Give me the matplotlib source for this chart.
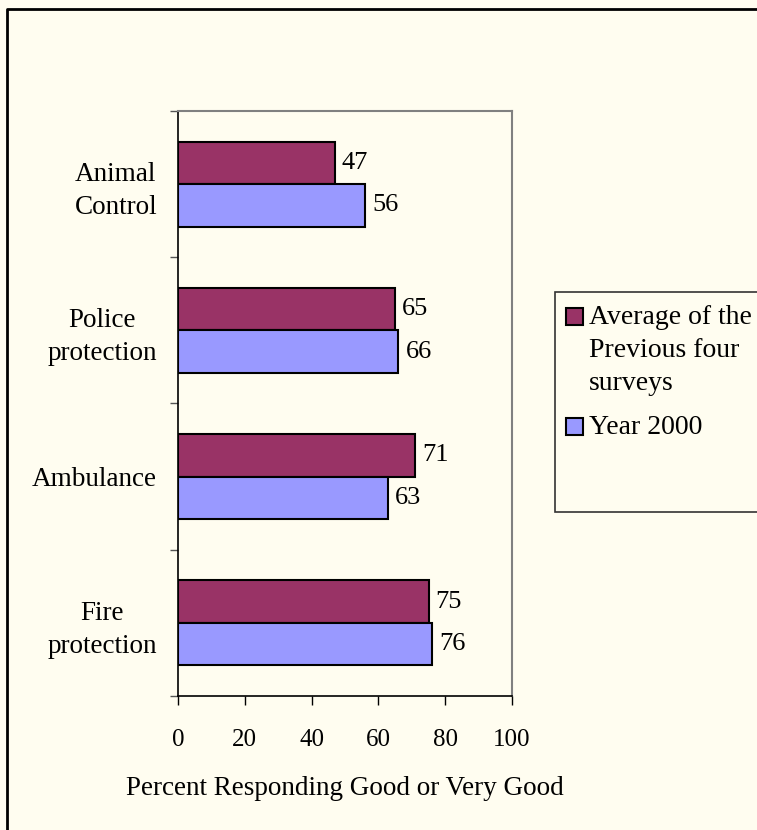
import matplotlib

matplotlib.use("Agg")
import matplotlib.pyplot as plt
import numpy as np
from matplotlib.lines import Line2D
from matplotlib.patches import Rectangle

categories = ["Animal\nControl", "Police\nprotection", "Ambulance", "Fire\nprotection"]
series_names = ["Average of the\nPrevious four\nsurveys", "Year 2000"]
previous_avg = [47, 65, 71, 75]
year_2000 = [56, 66, 63, 76]
x_ticks = [0, 20, 40, 60, 80, 100]
x_label = "Percent Responding Good or Very Good"

W, H = 757, 830
BG = "#FFFDF0"
COLORS = ["#993366", "#9999FF"]
FS_TICK = 18
FS_VALUE = 19
FS_TEXT = 19.5

plt.rcParams["font.family"] = ["Liberation Serif", "DejaVu Serif"]

fig = plt.figure(figsize=(W / 100, H / 100), dpi=100, facecolor=BG)
ax = fig.add_axes([178 / W, 1 - 696 / H, (512 - 178) / W, (696 - 111) / H])
ax.set_facecolor(BG)

y = np.arange(len(categories))
h = 0.29
bars_prev = ax.barh(y - h / 2, previous_avg, height=h, color=COLORS[0], edgecolor="black", linewidth=1.5)
bars_2000 = ax.barh(y + h / 2, year_2000, height=h, color=COLORS[1], edgecolor="black", linewidth=1.5)
ax.bar_label(bars_prev, padding=5, fontsize=FS_VALUE)
ax.bar_label(bars_2000, padding=5, fontsize=FS_VALUE)

ax.set_xlim(0, 100)
ax.set_ylim(len(categories) - 0.5, -0.5)
ax.set_xticks(x_ticks)
ax.tick_params(axis="x", direction="out", length=6.5, width=1, pad=17, labelsize=FS_TICK, colors="black")

# ticks at category boundaries, labels at category centers
ax.set_yticks(np.arange(len(categories) + 1) - 0.5)
ax.set_yticklabels([])
ax.tick_params(axis="y", which="major", direction="out", length=6, width=1, color="#555555")
ax.set_yticks(y, minor=True)
ax.set_yticklabels(categories, minor=True, fontsize=FS_TEXT, linespacing=1.42, multialignment="center")
ax.tick_params(axis="y", which="minor", length=0, pad=15)

for side in ("left", "bottom"):
    ax.spines[side].set_color("black")
    ax.spines[side].set_linewidth(1.2)
for side in ("top", "right"):
    ax.spines[side].set_color("#808080")
    ax.spines[side].set_linewidth(1.5)

ax.set_xlabel(x_label, fontsize=FS_TEXT, labelpad=18)

# legend drawn by hand: fixed box taller than its entries, as in the original
fig.add_artist(Rectangle((555 / W, 1 - 512 / H), (W + 10 - 555) / W, (512 - 292) / H,
                         transform=fig.transFigure, facecolor=BG, edgecolor="#333333",
                         linewidth=1.2, clip_on=False))
line_px = 33
for name, color, first_base in zip(series_names, COLORS, [324, 434]):
    fig.add_artist(Rectangle((566 / W, 1 - (first_base + 1) / H), 17 / W, 17 / H,
                             transform=fig.transFigure, facecolor=color,
                             edgecolor="black", linewidth=1.5))
    # va="baseline" pins the last line of a multi-line text
    last_base = first_base + name.count("\n") * line_px
    fig.text(589 / W, 1 - last_base / H, name, fontsize=20, va="baseline", ha="left", linespacing=1.43)

# outer frame (left and top edges only are visible)
fig.add_artist(Line2D([7 / W, 7 / W, 1], [0, 1 - 9 / H, 1 - 9 / H],
                      transform=fig.transFigure, color="black", linewidth=2))

fig.savefig("out.png", dpi=100, facecolor=BG)
